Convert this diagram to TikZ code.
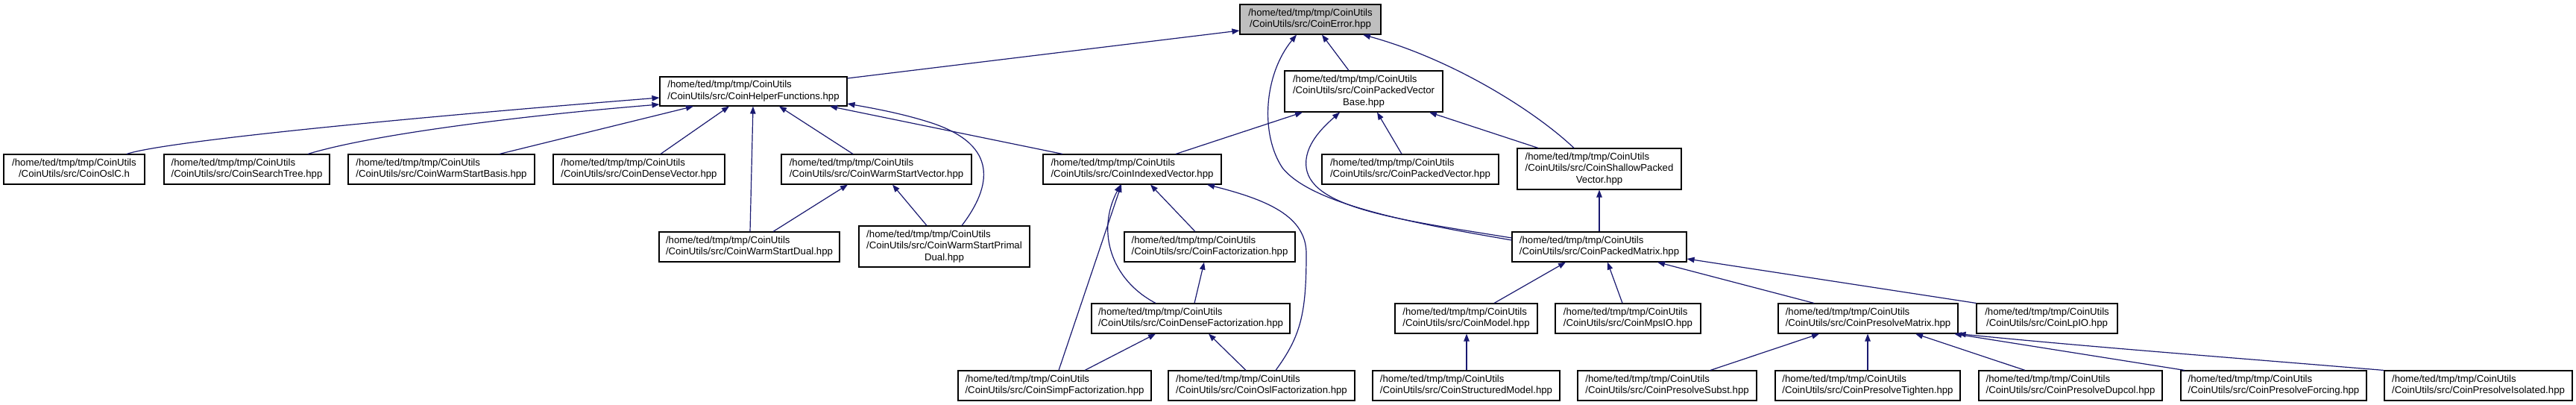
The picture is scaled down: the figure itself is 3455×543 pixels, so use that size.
\documentclass[tikz,border=0pt]{standalone}
\usepackage{fontspec}
\setmainfont{Liberation Sans}
\usetikzlibrary{arrows.meta}
\definecolor{edgecol}{RGB}{25,25,112}
\definecolor{errfill}{RGB}{191,191,191}
\newcommand{\twol}[2]{\begin{tabular}{@{}l@{}}#1\\\multicolumn{1}{@{}c@{}}{#2}\end{tabular}}
\newcommand{\threel}[3]{\begin{tabular}{@{}l@{}}#1\\#2\\\multicolumn{1}{@{}c@{}}{#3}\end{tabular}}
\newcommand{\hp}{/home/ted/tmp/tmp/CoinUtils}
\tikzset{
  filebox/.style={draw=black, line width=1.1pt, fill=white, rectangle, inner sep=0pt,
    font=\fontsize{13.2}{15.5}\selectfont},
  edge/.style={draw=edgecol, line width=1.2pt, -{Triangle[length=10pt,width=7.5pt]}}
}
\begin{document}
\begin{tikzpicture}[x=1pt,y=-1pt]
\useasboundingbox (0,0) rectangle (3455,543);
\fill[white] (0,0) rectangle (3455,543);
% nodes
\node[filebox, fill=errfill, minimum width=189, minimum height=40] (err) at (1757.5,26) {\twol{\hp}{/CoinUtils/src/CoinError.hpp}};
\node[filebox, minimum width=251, minimum height=39] (hf) at (1010.5,122.5) {\twol{\hp}{/CoinUtils/src/CoinHelperFunctions.hpp}};
\node[filebox, minimum width=189, minimum height=40] (oslc) at (99.5,227) {\twol{\hp}{/CoinUtils/src/CoinOslC.h}};
\node[filebox, minimum width=222, minimum height=40] (stree) at (331,227) {\twol{\hp}{/CoinUtils/src/CoinSearchTree.hpp}};
\node[filebox, minimum width=250, minimum height=40] (wsb) at (592,227) {\twol{\hp}{/CoinUtils/src/CoinWarmStartBasis.hpp}};
\node[filebox, minimum width=230, minimum height=40] (dv) at (857,227) {\twol{\hp}{/CoinUtils/src/CoinDenseVector.hpp}};
\node[filebox, minimum width=255, minimum height=40] (wsv) at (1175.5,227) {\twol{\hp}{/CoinUtils/src/CoinWarmStartVector.hpp}};
\node[filebox, minimum width=239, minimum height=40] (iv) at (1518.5,227) {\twol{\hp}{/CoinUtils/src/CoinIndexedVector.hpp}};
\node[filebox, minimum width=212, minimum height=55] (pvb) at (1829,122.5) {\threel{\hp}{/CoinUtils/src/CoinPackedVector}{Base.hpp}};
\node[filebox, minimum width=237, minimum height=40] (pv) at (1891.5,227) {\twol{\hp}{/CoinUtils/src/CoinPackedVector.hpp}};
\node[filebox, minimum width=220, minimum height=55] (spv) at (2145,226.5) {\threel{\hp}{/CoinUtils/src/CoinShallowPacked}{Vector.hpp}};
\node[filebox, minimum width=242, minimum height=40] (wsd) at (1005,331) {\twol{\hp}{/CoinUtils/src/CoinWarmStartDual.hpp}};
\node[filebox, minimum width=229, minimum height=55] (wspd) at (1266.5,330.5) {\threel{\hp}{/CoinUtils/src/CoinWarmStartPrimal}{Dual.hpp}};
\node[filebox, minimum width=229, minimum height=40] (fact) at (1622.5,331) {\twol{\hp}{/CoinUtils/src/CoinFactorization.hpp}};
\node[filebox, minimum width=234, minimum height=40] (pm) at (2145,331) {\twol{\hp}{/CoinUtils/src/CoinPackedMatrix.hpp}};
\node[filebox, minimum width=266, minimum height=40] (dfact) at (1597,427) {\twol{\hp}{/CoinUtils/src/CoinDenseFactorization.hpp}};
\node[filebox, minimum width=191, minimum height=40] (model) at (1966.5,427) {\twol{\hp}{/CoinUtils/src/CoinModel.hpp}};
\node[filebox, minimum width=195, minimum height=40] (mps) at (2183.5,427) {\twol{\hp}{/CoinUtils/src/CoinMpsIO.hpp}};
\node[filebox, minimum width=241, minimum height=40] (pmat) at (2505.5,427) {\twol{\hp}{/CoinUtils/src/CoinPresolveMatrix.hpp}};
\node[filebox, minimum width=189, minimum height=40] (lpio) at (2745.5,427) {\twol{\hp}{/CoinUtils/src/CoinLpIO.hpp}};
\node[filebox, minimum width=259, minimum height=40] (sfact) at (1414.5,517) {\twol{\hp}{/CoinUtils/src/CoinSimpFactorization.hpp}};
\node[filebox, minimum width=250, minimum height=40] (ofact) at (1692,517) {\twol{\hp}{/CoinUtils/src/CoinOslFactorization.hpp}};
\node[filebox, minimum width=251, minimum height=40] (smodel) at (1966.5,517) {\twol{\hp}{/CoinUtils/src/CoinStructuredModel.hpp}};
\node[filebox, minimum width=240, minimum height=40] (subst) at (2236,517) {\twol{\hp}{/CoinUtils/src/CoinPresolveSubst.hpp}};
\node[filebox, minimum width=248, minimum height=40] (tighten) at (2505,517) {\twol{\hp}{/CoinUtils/src/CoinPresolveTighten.hpp}};
\node[filebox, minimum width=246, minimum height=40] (dupcol) at (2777,517) {\twol{\hp}{/CoinUtils/src/CoinPresolveDupcol.hpp}};
\node[filebox, minimum width=249, minimum height=40] (forcing) at (3049.5,517) {\twol{\hp}{/CoinUtils/src/CoinPresolveForcing.hpp}};
\node[filebox, minimum width=252, minimum height=40] (isolated) at (3324,517) {\twol{\hp}{/CoinUtils/src/CoinPresolveIsolated.hpp}};
% edges (child -> included header)
\draw[edge] (hf.east |- 0,105) -- (err.west |- 0,41);
\draw[edge] (pvb.north -| 1809,0) -- (err.south -| 1773,0);
\draw[edge] (spv.north -| 2111,0) .. controls (2060,150) and (1950,80) .. (err.south -| 1828,0);
\draw[edge] (pm.west |- 0,322) .. controls (1900,300) and (1760,275) .. (1720,225) .. controls (1690,180) and (1695,100) .. (err.south -| 1739,0);
\draw[edge] (pm.west |- 0,319) .. controls (1880,295) and (1760,280) .. (1752,225) .. controls (1748,195) and (1775,170) .. (pvb.south -| 1797,0);
\draw[edge] (iv.north -| 1425,0) -- (hf.south -| 1113,0);
\draw[edge] (wspd.north -| 1290,0) .. controls (1330,250) and (1340,195) .. (1250,165) .. controls (1210,152) and (1170,145) .. (hf.east |- 0,139);
\draw[edge] (oslc.north -| 170,0) .. controls (220,190) and (520,160) .. (hf.west |- 0,131);
\draw[edge] (stree.north -| 413,0) .. controls (500,180) and (700,155) .. (hf.west |- 0,140);
\draw[edge] (wsb.north -| 670,0) -- (hf.south -| 930,0);
\draw[edge] (dv.north -| 886,0) -- (hf.south -| 978,0);
\draw[edge] (wsd.north -| 1006,0) -- (hf.south -| 1010,0);
\draw[edge] (wsv.north -| 1144,0) -- (hf.south -| 1045,0);
\draw[edge] (wsd.north -| 1037,0) -- (wsv.south -| 1137,0);
\draw[edge] (wspd.north -| 1243,0) -- (wsv.south -| 1197,0);
\draw[edge] (iv.north -| 1577,0) -- (pvb.south -| 1747,0);
\draw[edge] (pv.north -| 1880,0) -- (pvb.south -| 1847,0);
\draw[edge] (spv.north -| 2063,0) -- (pvb.south -| 1917,0);
\draw[edge] (pm.north -| 2145,0) -- (spv.south -| 2145,0);
\draw[edge] (sfact.north -| 1420,0) -- (iv.south -| 1504,0);
\draw[edge] (dfact.north -| 1550,0) .. controls (1490,375) and (1470,310) .. (iv.south -| 1503,0);
\draw[edge] (fact.north -| 1603,0) -- (iv.south -| 1543,0);
\draw[edge] (ofact.north -| 1711,0) .. controls (1745,450) and (1752,420) .. (1752,340) .. controls (1752,290) and (1700,268) .. (iv.south -| 1619,0);
\draw[edge] (dfact.north -| 1602,0) -- (fact.south -| 1615,0);
\draw[edge] (sfact.north -| 1455,0) -- (dfact.south -| 1550,0);
\draw[edge] (ofact.north -| 1671,0) -- (dfact.south -| 1621,0);
\draw[edge] (model.north -| 2004,0) -- (pm.south -| 2100,0);
\draw[edge] (mps.north -| 2176,0) -- (pm.south -| 2156,0);
\draw[edge] (pmat.north -| 2433,0) -- (pm.south -| 2223,0);
\draw[edge] (lpio.north west) -- (pm.east |- 0,347);
\draw[edge] (smodel.north -| 1967,0) -- (model.south -| 1967,0);
\draw[edge] (subst.north -| 2294,0) -- (pmat.south -| 2440,0);
\draw[edge] (tighten.north -| 2505,0) -- (pmat.south -| 2505,0);
\draw[edge] (dupcol.north -| 2716,0) -- (pmat.south -| 2569,0);
\draw[edge] (forcing.north -| 2930,0) -- (pmat.south -| 2621,0);
\draw[edge] (isolated.north -| 3197,0) .. controls (3000,480) and (2800,465) .. (pmat.south east);
\end{tikzpicture}
\end{document}
